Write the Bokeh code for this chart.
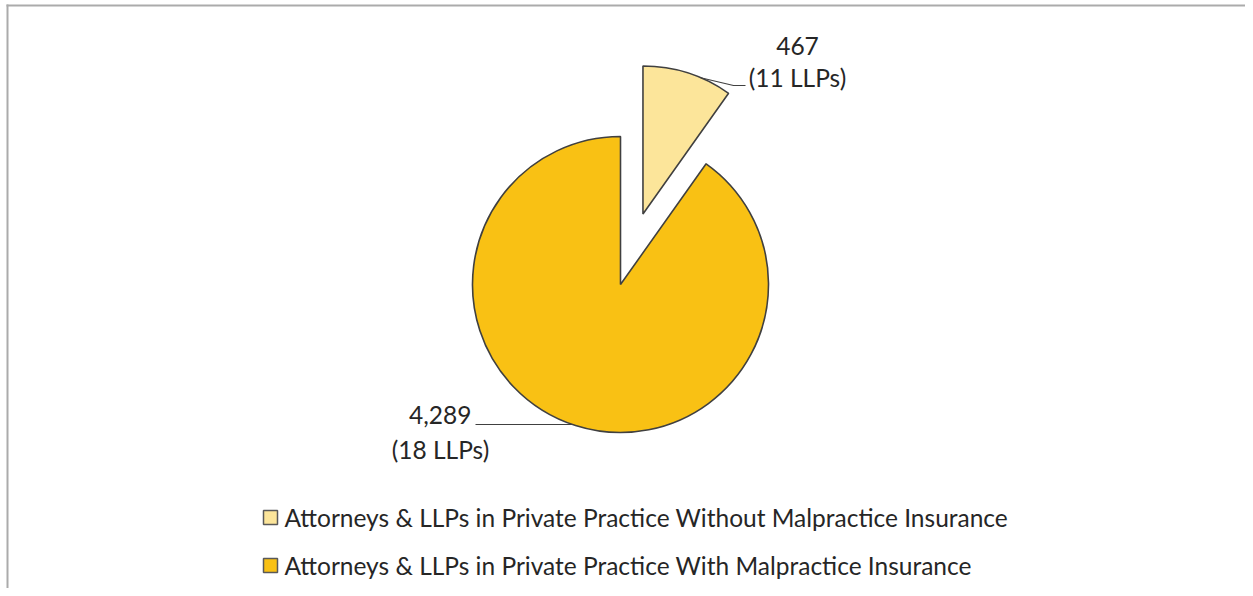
import math
from bokeh.plotting import figure
from bokeh.models import Range1d
from bokeh.core.properties import value
from bokeh.embed import file_html
from bokeh.resources import INLINE

# ---- data ----
categories = [
    "Attorneys & LLPs in Private Practice Without Malpractice Insurance",
    "Attorneys & LLPs in Private Practice With Malpractice Insurance",
]
counts = [467, 4289]
llps = [11, 18]
colors = ["#FCE59A", "#F9C114"]

# ---- layout (page pixel coordinates; y measured from top) ----
W, H = 1245, 588
X0, Y0 = 0, 8


def py(y_page):
    return Y0 + H - y_page


p = figure(width=W, height=H, output_backend="svg", toolbar_location=None,
           x_range=Range1d(X0, X0 + W), y_range=Range1d(Y0, Y0 + H),
           min_border=0, outline_line_color=None)
p.axis.visible = False
p.grid.visible = False
p.background_fill_color = "white"
p.border_fill_color = "white"

# frame (left and top only)
p.segment(x0=[7, 6], y0=[py(4), py(5)], x1=[7, X0 + W], y1=[py(600), py(5)],
          line_color="#ABABAB", line_width=2)

cx, cy, R = 620, 284, 148
explode = 74
total = sum(counts)
FS = "24.5px"
font = value("Lato")
start = math.pi / 2
for i, (c, col) in enumerate(zip(counts, colors)):
    sweep = 2 * math.pi * c / total
    a_start = start
    a_end = start - sweep
    mid = (a_start + a_end) / 2
    off = explode if i == 0 else 0
    ox = cx + off * math.cos(mid)
    oy = cy - off * math.sin(mid)
    p.wedge(x=[ox], y=[py(oy)], radius=R, start_angle=a_end, end_angle=a_start,
            direction="anticlock", fill_color=col, line_color="#404040", line_width=1.6)
    if i == 0:
        ang = a_start - sweep * 0.65
        ax_ = ox + R * math.cos(ang)
        ay_ = oy - R * math.sin(ang)
        p.line(x=[ax_, 733, 745], y=[py(ay_), py(85), py(85)], line_color="#404040", line_width=1.2)
        p.text(x=[797], y=[py(45)], text=[f"{c:,}"], text_font=font, text_font_size=FS,
               text_align="center", text_baseline="middle", text_color="#262626")
        p.text(x=[797], y=[py(77)], text=[f"({llps[i]} LLPs)"], text_font=font, text_font_size=FS,
               text_align="center", text_baseline="middle", text_color="#262626")
    else:
        yy = 424
        ax_ = cx - math.sqrt(R * R - (yy - cy) ** 2)
        p.line(x=[475, ax_], y=[py(yy), py(yy)], line_color="#404040", line_width=1.2)
        p.text(x=[471], y=[py(414)], text=[f"{c:,}"], text_font=font, text_font_size=FS,
               text_align="right", text_baseline="middle", text_color="#262626")
        p.text(x=[440], y=[py(449)], text=[f"({llps[i]} LLPs)"], text_font=font, text_font_size=FS,
               text_align="center", text_baseline="middle", text_color="#262626")
    start = a_end

# legend
leg_y = [517, 565]
for i, (lab, col) in enumerate(zip(categories, colors)):
    p.scatter(x=[270], y=[py(leg_y[i])], marker="square", size=14, fill_color=col,
              line_color="#595959", line_width=1.5)
    p.text(x=[284], y=[py(leg_y[i])], text=[lab], text_font=font, text_font_size=FS,
           text_align="left", text_baseline="middle", text_color="#262626")

open("out.html", "w").write(file_html(p, INLINE))
